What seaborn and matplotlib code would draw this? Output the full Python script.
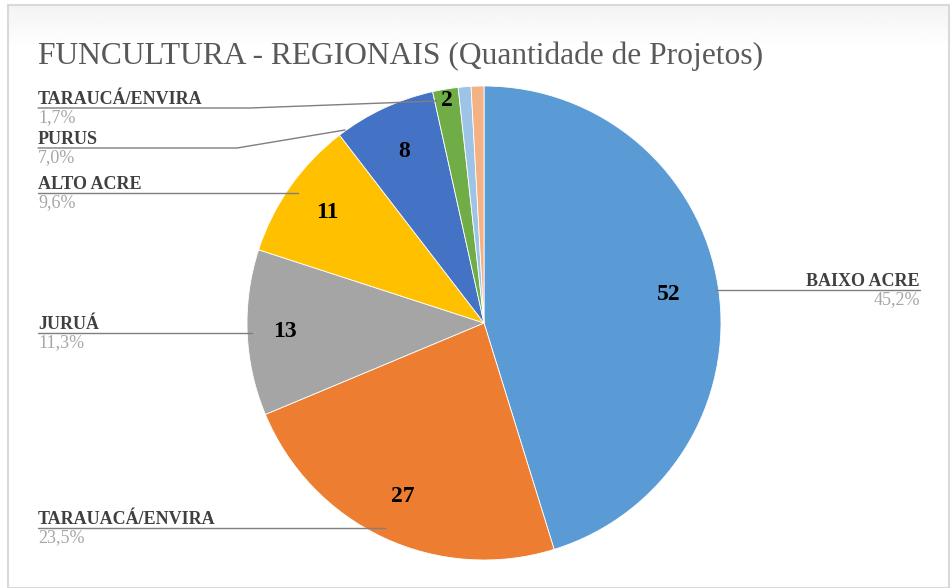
import numpy as np
import matplotlib.pyplot as plt
import matplotlib.patches as mpatches
import seaborn as sns

# --------------------------------------------------------------
# Data
# --------------------------------------------------------------
regions = [
    "BAIXO ACRE",
    "TARAUACÁ/ENVIRA",
    "JURUÁ",
    "ALTO ACRE",
    "PURUS",
    "TARAUCÁ/ENVIRA",
    "",
    "",
]
projects = [52, 27, 13, 11, 8, 2, 1, 1]
colors = ["#5B9BD5", "#ED7D31", "#A5A5A5", "#FFC000", "#4472C4", "#70AD47", "#9DC3E6", "#F4B183"]
title = "FUNCULTURA - REGIONAIS (Quantidade de Projetos)"

# --------------------------------------------------------------
# Layout (pixel coordinates, origin top-left)
# --------------------------------------------------------------
W, H = 952, 588
center_px = (484, 323)
radius_px = 237
inner_dist = [0.79, 0.81, 0.84, 0.81, 0.80, 0.95, None, None]
# label anchor x, line y, leader points (elbow/end)
leaders = [
    dict(x=920, ha="right", ly=290, pts=[(716, 290)]),
    dict(x=38, ha="left", ly=528, pts=[(385, 528)]),
    dict(x=38, ha="left", ly=333, pts=[(252, 333)]),
    dict(x=38, ha="left", ly=193, pts=[(298, 193)]),
    dict(x=38, ha="left", ly=148, pts=[(237, 148), (345, 130)]),
    dict(x=38, ha="left", ly=108, pts=[(250, 108), (437, 101)]),
    None,
    None,
]


def Y(y):
    return H - y


sns.set_style("white")
plt.rcParams["font.family"] = ["Liberation Serif", "DejaVu Serif"]

fig = plt.figure(figsize=(W / 100, H / 100), dpi=100)
ax = fig.add_axes([0, 0, 1, 1])

# chart frame with faint top shading
grad = np.linspace(0.955, 1.0, 50).reshape(-1, 1)
ax.imshow(grad, cmap="gray", vmin=0, vmax=1, extent=(9, 949, Y(48), Y(6)), aspect="auto", zorder=0)
ax.add_patch(mpatches.Rectangle((8, 0), 941, Y(5), facecolor="none", edgecolor="#D9D9D9", lw=1.5, zorder=1))

cx, cy = center_px[0], Y(center_px[1])
wedges, _ = ax.pie(
    projects,
    colors=colors,
    startangle=90,
    counterclock=False,
    center=(cx, cy),
    radius=radius_px,
    wedgeprops=dict(edgecolor="white", linewidth=0.6),
)

total = sum(projects)
for w, v, d in zip(wedges, projects, inner_dist):
    if d is None:
        continue
    ang = np.deg2rad((w.theta1 + w.theta2) / 2)
    ax.text(
        cx + d * radius_px * np.cos(ang),
        cy + d * radius_px * np.sin(ang),
        str(v),
        ha="center",
        va="center",
        fontsize=17,
        fontweight="bold",
        color="black",
        zorder=5,
    )

for name, v, lead in zip(regions, projects, leaders):
    if lead is None:
        continue
    pct = f"{v / total * 100:.1f}".replace(".", ",") + "%"
    ax.text(lead["x"], Y(lead["ly"] - 4), name, ha=lead["ha"], va="baseline",
            fontsize=13, fontweight="bold", color="#404040", zorder=5)
    ax.text(lead["x"], Y(lead["ly"] + 1), pct, ha=lead["ha"], va="top",
            fontsize=13, color="#A6A6A6", zorder=5)
    xs = [lead["x"]] + [p[0] for p in lead["pts"]]
    ys = [Y(lead["ly"])] + [Y(p[1]) for p in lead["pts"]]
    ax.plot(xs, ys, color="#7F7F7F", lw=1.0, zorder=4)

ax.text(38, Y(56), title, ha="left", va="center", fontsize=22.7, color="#595959")

ax.set_xlim(0, W)
ax.set_ylim(0, H)
ax.set_aspect("equal")
ax.axis("off")

fig.savefig("out.png", dpi=100)
